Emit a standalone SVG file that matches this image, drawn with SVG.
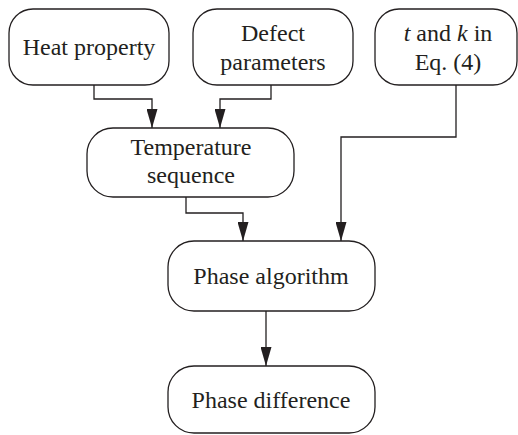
<svg xmlns="http://www.w3.org/2000/svg" width="518" height="435" viewBox="0 0 518 435">
  <style>
    .box { fill: #ffffff; stroke: #231f20; stroke-width: 1.3; }
    .lbl { font-family: 'Liberation Serif', 'Times New Roman', serif; font-size: 24px; fill: #231f20; text-anchor: middle; }
    .wire { fill: none; stroke: #231f20; stroke-width: 1.3; }
  </style>
  <defs>
    <marker id="arrow" markerWidth="19" markerHeight="11" refX="19" refY="5.5" viewBox="0 0 19 11" markerUnits="userSpaceOnUse" orient="auto">
      <path d="M0,0 L19,5.5 L0,11 Z" fill="#231f20"/>
    </marker>
  </defs>
  <rect width="518" height="435" fill="#ffffff"/>

  <g id="heat-property">
    <rect class="box" x="9" y="9" width="160" height="76" rx="24" ry="24"/>
    <text class="lbl" x="89" y="55">Heat property</text>
  </g>

  <g id="defect-parameters">
    <rect class="box" x="193" y="9" width="160" height="76" rx="24" ry="24"/>
    <text class="lbl" x="273" y="41">Defect</text>
    <text class="lbl" x="273" y="70">parameters</text>
  </g>

  <g id="t-k-eq4">
    <rect class="box" x="375" y="9" width="142" height="76" rx="24" ry="24"/>
    <text class="lbl" x="448" y="41"><tspan font-style="italic">t</tspan> and <tspan font-style="italic">k</tspan> in</text>
    <text class="lbl" x="448" y="70">Eq. (4)</text>
  </g>

  <g id="temperature-sequence">
    <rect class="box" x="87" y="128" width="207" height="69" rx="26" ry="26"/>
    <text class="lbl" x="191" y="155">Temperature</text>
    <text class="lbl" x="191" y="183">sequence</text>
  </g>

  <g id="phase-algorithm">
    <rect class="box" x="168" y="241" width="207" height="70" rx="26" ry="26"/>
    <text class="lbl" x="271" y="284">Phase algorithm</text>
  </g>

  <g id="phase-difference">
    <rect class="box" x="168" y="366" width="207" height="67" rx="26" ry="26"/>
    <text class="lbl" x="271" y="408">Phase difference</text>
  </g>

  <g id="connectors">
    <polyline class="wire" points="94,85 94,99 152,99 152,128" marker-end="url(#arrow)"/>
    <polyline class="wire" points="271,85 271,99 220,99 220,128" marker-end="url(#arrow)"/>
    <polyline class="wire" points="186,197 186,213 243,213 243,241" marker-end="url(#arrow)"/>
    <polyline class="wire" points="456,85 456,137 341,137 341,241" marker-end="url(#arrow)"/>
    <polyline class="wire" points="266,311 266,366" marker-end="url(#arrow)"/>
  </g>
</svg>
